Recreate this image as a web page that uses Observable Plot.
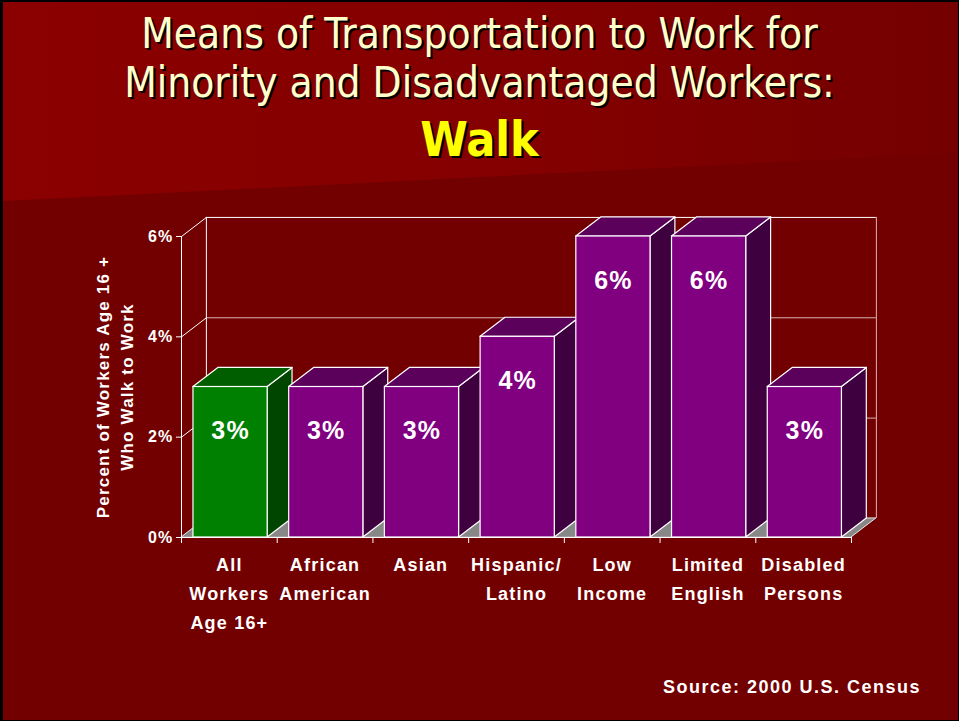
<!DOCTYPE html>
<html>
<head>
<meta charset="utf-8">
<script src="https://cdn.jsdelivr.net/npm/d3@7"></script>
<script src="https://cdn.jsdelivr.net/npm/@observablehq/plot@0.6"></script>
<style>
html, body { margin: 0; padding: 0; background: #000; }
#page { position: relative; width: 959px; height: 721px; overflow: hidden; font-family: "Liberation Sans", Arial, sans-serif; }
#bg { position: absolute; left: 0; top: 0; }
.title { position: absolute; left: 0; width: 959px; text-align: center; color: #ffffcc;
  font-family: "DejaVu Sans Condensed", "DejaVu Sans", sans-serif; font-stretch: condensed;
  font-size: 42px; line-height: 42px; text-shadow: 2px 2px 0 #000; white-space: nowrap; }
#walk { color: #ffff00; font-weight: bold; font-size: 48px; line-height: 48px; }
#source { position: absolute; right: 38px; top: 678px; color: #fff; font-weight: bold; font-size: 18px;
  line-height: 18px; letter-spacing: 1.5px; white-space: nowrap; }
#chart { position: absolute; left: 0; top: 200px; }
#chart text { letter-spacing: 1.2px; }
</style>
</head>
<body>
<div id="page">
  <svg id="bg" width="959" height="721">
    <defs>
      <linearGradient id="tg" x1="0" y1="0" x2="1" y2="0">
        <stop offset="0" stop-color="#8b0000"/>
        <stop offset="0.55" stop-color="#840000"/>
        <stop offset="1" stop-color="#740000"/>
      </linearGradient>
    </defs>
    <rect x="0" y="0" width="959" height="721" fill="#000"/>
    <rect x="3" y="2" width="955" height="718" fill="#730000"/>
    <polygon points="3,2 958,2 958,153 3,201" fill="url(#tg)"/>
  </svg>
  <div class="title" style="top:13px">Means of Transportation to Work for</div>
  <div class="title" style="top:62px">Minority and Disadvantaged Workers:</div>
  <div class="title" id="walk" style="top:115px">Walk</div>
  <div id="chart"></div>
  <div id="source">Source: 2000 U.S. Census</div>
</div>
<script>
// ---- data ----
const categories = ["All\nWorkers\nAge 16+", "African\nAmerican", "Asian", "Hispanic/\nLatino", "Low\nIncome", "Limited\nEnglish", "Disabled\nPersons"];
const values = [3, 3, 3, 4, 6, 6, 3];
const yTicks = [0, 2, 4, 6];
const yTitle = "Percent of Workers Age 16 +\nWho Walk to Work";

// ---- 3D geometry helpers (in scale units) ----
const N = categories.length;
const DX = 0.26, DY = 0.38;   // depth offset of the pseudo-3D box
const L = 0.125, R = 0.9;     // bar front face within each band
const bars = categories.map((c, i) => ({ i, c, v: values[i], hi: i === 0 }));
const frontCol = d => d.hi ? "#008000" : "#800080";
const sideCol = d => d.hi ? "#004600" : "#3f003f";
const topCol = d => d.hi ? "#005e00" : "#5b005b";

const sidePts = bars.flatMap(b => [
  { k: b.i, hi: b.hi, x: b.i + R, y1: 0, y2: b.v },
  { k: b.i, hi: b.hi, x: b.i + R + DX, y1: DY, y2: b.v + DY }
]);
const topPts = bars.flatMap(b => [
  { k: b.i, hi: b.hi, y: b.v, x1: b.i + L, x2: b.i + R },
  { k: b.i, hi: b.hi, y: b.v + DY, x1: b.i + L + DX, x2: b.i + R + DX }
]);
const floorPts = [{ y: 0, x1: 0, x2: N }, { y: DY, x1: DX, x2: N + DX }];
const grid = "#d9b3b3";

const chart = Plot.plot({
  width: 959, height: 450,
  marginLeft: 181, marginRight: 108, marginTop: 36, marginBottom: 113,
  x: { domain: [0, N] },
  y: { domain: [0, 6] },
  color: { type: "identity" },
  style: { background: "transparent", color: "white", fontFamily: "'Liberation Sans', Arial, sans-serif",
           fontSize: "16px", fontWeight: "bold", overflow: "visible" },
  marks: [
    // back wall
    Plot.ruleY(yTicks.filter(t => t > 0), { y: t => t + DY, x1: DX, x2: N + DX, stroke: t => t === 6 ? "white" : grid }),
    Plot.ruleX([DX], { y1: DY, y2: 6 + DY, stroke: "white" }),
    Plot.ruleX([N + DX], { y1: DY, y2: 6 + DY, stroke: grid }),
    Plot.link(yTicks, { x1: 0, x2: DX, y1: t => t, y2: t => t + DY, stroke: "white" }),
    // floor
    Plot.areaX(floorPts, { y: "y", x1: "x1", x2: "x2", fill: "#878787", stroke: "#e6e6e6" }),
    // bars
    Plot.areaY(sidePts, { x: "x", y1: "y1", y2: "y2", z: "k", fill: sideCol, stroke: "white", strokeWidth: 1.2 }),
    Plot.areaX(topPts, { y: "y", x1: "x1", x2: "x2", z: "k", fill: topCol, stroke: "white", strokeWidth: 1.2 }),
    Plot.rect(bars, { x1: d => d.i + L, x2: d => d.i + R, y1: 0, y2: "v", fill: frontCol, stroke: "white", strokeWidth: 1.2 }),
    Plot.text(bars, { x: d => d.i + (L + R) / 2, y: "v", text: d => d.v + "%", dy: 44, fontSize: 25, fill: "white" }),
    // front axes
    Plot.ruleX([0], { y1: 0, y2: 6, stroke: "white" }),
    Plot.ruleY([0], { x1: 0, x2: N, stroke: "white" }),
    Plot.axisY(yTicks, { tickFormat: d => d + "%", tickSize: 5, tickPadding: 3, label: null, fontSize: 16, stroke: "white" }),
    Plot.axisX(d3.range(N + 1), { tickFormat: () => "", tickSize: 6, label: null, stroke: "white" }),
    Plot.text(categories, { x: (d, i) => i + 0.5, y: 0, text: d => d, lineAnchor: "top", dy: 13, lineHeight: 1.6, fontSize: 18 }),
    Plot.text([yTitle], { frameAnchor: "left", textAnchor: "middle", rotate: -90, dx: -68, lineHeight: 1.4, fontSize: 17 })
  ]
});
document.getElementById("chart").appendChild(chart);
</script>
</body>
</html>
